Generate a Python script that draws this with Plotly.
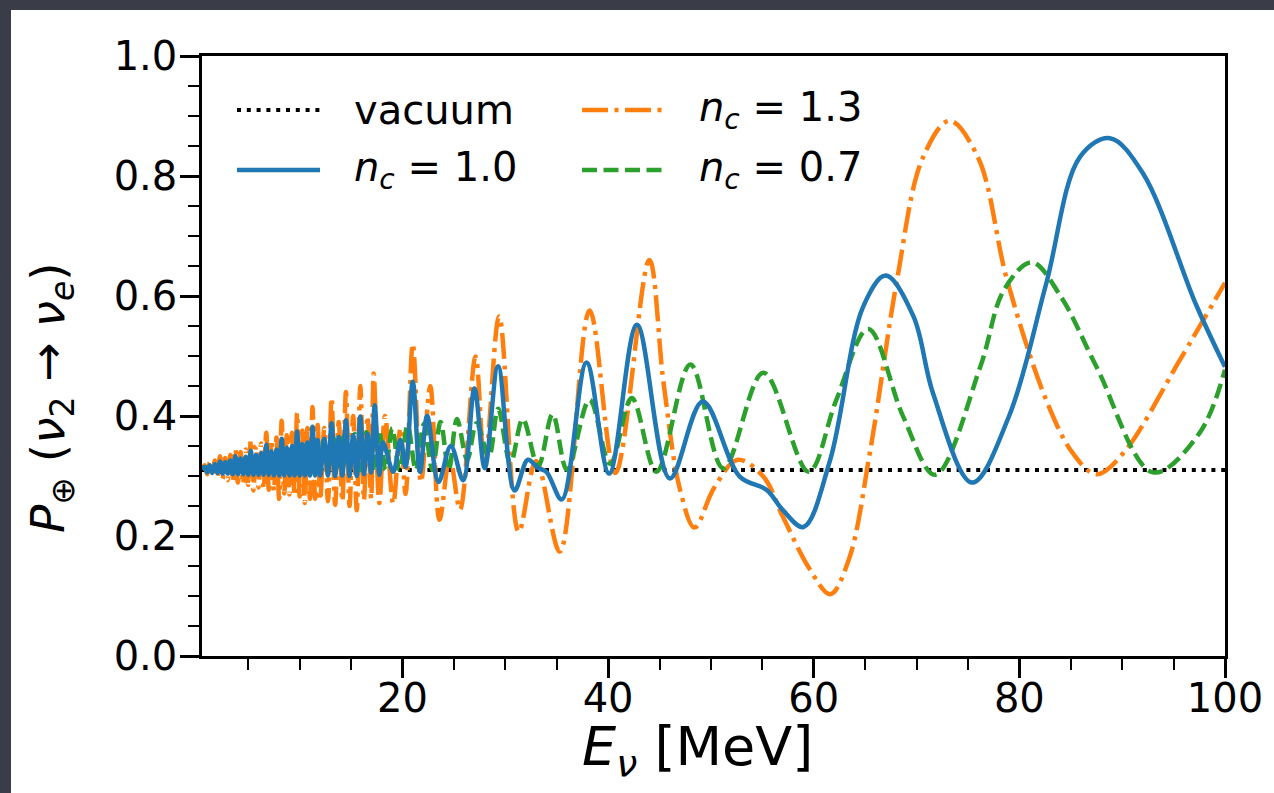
import plotly.graph_objects as go

# ---------------------------------------------------------------
# Regeneration probability P(nu_2 -> nu_e) vs. neutrino energy
# ---------------------------------------------------------------
E_vacuum = [0.5, 100.0]
P_vacuum = [0.31, 0.31]

# n_c = 1.0
E_nc10 = [0.5, 0.75, 1.0, 1.25, 1.5, 1.75, 2.0, 2.25, 2.5, 2.75, 3.0, 3.25, 3.5, 3.75,
          4.0, 4.25, 4.5, 4.75, 5.0, 5.25, 5.5, 5.75, 6.0, 6.25, 6.5, 6.75, 7.0, 7.25,
          7.5, 7.75, 8.0, 8.25, 8.5, 8.75, 9.0, 9.25, 9.5, 9.75, 10.0, 10.25, 10.5,
          10.75, 11.0, 11.25, 11.5, 11.75, 12.0,
          12.4, 12.75, 13.1, 13.45, 13.8, 14.15, 14.5, 14.85, 15.2, 15.55, 15.9, 16.25,
          16.6, 16.95, 17.3, 17.75,
          18.1, 19.1, 19.8, 20.3, 21.0, 21.7, 22.4, 23.5, 24.7, 25.9, 27.0, 28.0, 29.3,
          30.9, 32.2, 33.2, 34.0, 35.5, 37.9, 40.1, 42.8, 46.0, 49.2, 52.8, 55.4, 57.0,
          59.0, 61.6, 64.8, 67.0, 69.7, 71.6, 75.4, 79.0, 82.6, 85.9, 88.8, 92.0, 97.2,
          100.0]
P_nc10 = [0.311, 0.315, 0.306, 0.318, 0.305, 0.320, 0.305, 0.324, 0.304, 0.323, 0.304,
          0.326, 0.303, 0.333, 0.303, 0.329, 0.303, 0.332, 0.302, 0.342, 0.302, 0.335,
          0.302, 0.338, 0.302, 0.352, 0.302, 0.341, 0.301, 0.344, 0.301, 0.362, 0.301,
          0.347, 0.301, 0.350, 0.301, 0.374, 0.301, 0.353, 0.301, 0.356, 0.301, 0.382,
          0.301, 0.360, 0.301,
          0.362, 0.301, 0.388, 0.300, 0.365, 0.301, 0.393, 0.300, 0.368, 0.300, 0.399,
          0.303, 0.370, 0.306, 0.418, 0.302,
          0.356, 0.307, 0.360, 0.315, 0.457, 0.307, 0.400, 0.290, 0.350, 0.293, 0.446,
          0.313, 0.483, 0.276, 0.327, 0.313, 0.307, 0.261, 0.489, 0.304, 0.552, 0.296,
          0.424, 0.299, 0.277, 0.243, 0.215, 0.327, 0.582, 0.634, 0.566, 0.438, 0.289,
          0.400, 0.620, 0.832, 0.863, 0.805, 0.585, 0.482]

# n_c = 1.3
E_nc13 = [0.5, 0.75, 1.0, 1.25, 1.5, 1.75, 2.0, 2.25, 2.5, 2.75, 3.0, 3.25, 3.5, 3.75,
          4.0, 4.25, 4.5, 4.75, 5.0, 5.25, 5.5, 5.75, 6.0, 6.25, 6.5, 6.75, 7.0, 7.25,
          7.5, 7.75, 8.0, 8.25, 8.5, 8.75, 9.0, 9.25, 9.5, 9.75, 10.0, 10.25, 10.5,
          10.75, 11.0, 11.25, 11.5, 11.75, 12.0,
          12.4, 12.75, 13.1, 13.45, 13.8, 14.15, 14.5, 14.85, 15.2, 15.55, 15.9, 16.25,
          16.6, 16.95, 17.2, 17.75,
          18.3, 19.1, 19.8, 20.3, 21.0, 21.8, 22.7, 23.6, 24.6, 25.6, 27.1, 28.0, 29.4,
          31.3, 33.0, 35.3, 38.2, 40.7, 44.0, 45.4, 47.0, 48.4, 50.3, 52.6, 55.1, 57.0,
          59.6, 61.6, 63.4, 65.5, 68.1, 70.6, 73.2, 76.0, 78.8, 82.6, 85.2, 87.5, 90.1,
          95.6, 100.0]
P_nc13 = [0.311, 0.318, 0.303, 0.322, 0.300, 0.326, 0.297, 0.333, 0.295, 0.330, 0.293,
          0.335, 0.291, 0.345, 0.289, 0.340, 0.287, 0.344, 0.285, 0.360, 0.276, 0.350,
          0.281, 0.354, 0.279, 0.372, 0.277, 0.360, 0.275, 0.364, 0.262, 0.392, 0.271,
          0.368, 0.269, 0.372, 0.267, 0.405, 0.266, 0.376, 0.255, 0.380, 0.262, 0.415,
          0.262, 0.385, 0.260,
          0.380, 0.258, 0.430, 0.252, 0.390, 0.258, 0.440, 0.250, 0.400, 0.243, 0.450,
          0.260, 0.400, 0.262, 0.471, 0.255,
          0.400, 0.254, 0.380, 0.270, 0.520, 0.290, 0.450, 0.227, 0.330, 0.244, 0.499,
          0.318, 0.566, 0.207, 0.325, 0.174, 0.576, 0.305, 0.660, 0.454, 0.277, 0.214,
          0.280, 0.327, 0.299, 0.232, 0.145, 0.103, 0.160, 0.343, 0.627, 0.830, 0.892,
          0.830, 0.627, 0.427, 0.338, 0.303, 0.338, 0.493, 0.622]

# n_c = 0.7
E_nc07 = [0.5, 0.85, 1.2, 1.55, 1.9, 2.25, 2.6, 2.95, 3.3, 3.65, 4.0, 4.35, 4.7, 5.05,
          5.4, 5.75, 6.1, 6.45, 6.8, 7.15, 7.5, 7.85, 8.2, 8.55, 8.9, 9.25, 9.6, 9.95,
          10.3, 10.7, 11.1, 11.5, 11.9, 12.35, 12.8, 13.3, 13.8, 14.3, 14.8, 15.35,
          15.9, 16.5, 17.1, 17.7, 18.35, 19.0, 19.7, 20.5, 21.3, 22.1, 22.9, 23.7,
          24.5, 25.3,
          26.3, 27.2, 28.4, 29.3, 30.5, 31.7, 33.2, 34.6, 36.0, 38.2, 40.2, 42.3, 44.7,
          48.0, 51.2, 55.1, 59.5, 62.2, 65.3, 68.7, 71.8, 76.2, 78.5, 81.2, 84.0, 87.5,
          93.0, 97.5, 100.0]
P_nc07 = [0.311, 0.315, 0.309, 0.317, 0.309, 0.319, 0.308, 0.322, 0.308, 0.324, 0.308,
          0.327, 0.308, 0.329, 0.308, 0.332, 0.308, 0.335, 0.308, 0.338, 0.308, 0.341,
          0.309, 0.344, 0.309, 0.347, 0.309, 0.350,
          0.309, 0.353, 0.310, 0.356, 0.310, 0.360, 0.310, 0.363, 0.310, 0.366, 0.310,
          0.370, 0.310, 0.373, 0.310, 0.376, 0.310, 0.380, 0.310, 0.384, 0.310, 0.387,
          0.310, 0.390, 0.310, 0.395,
          0.327, 0.388, 0.332, 0.412, 0.321, 0.395, 0.316, 0.403, 0.310, 0.427, 0.320,
          0.430, 0.307, 0.486, 0.313, 0.472, 0.307, 0.427, 0.545, 0.399, 0.302, 0.482,
          0.610, 0.656, 0.600, 0.482, 0.306, 0.371, 0.477]

x_ticks = [20, 40, 60, 80, 100]
y_ticks = [0.0, 0.2, 0.4, 0.6, 0.8, 1.0]

for a, b in [(E_nc10, P_nc10), (E_nc13, P_nc13), (E_nc07, P_nc07)]:
    assert len(a) == len(b)

# ---------------------------------------------------------------
# Figure geometry and styles
# ---------------------------------------------------------------
W, H = 1274, 793
ML, MR, MT, MB = 202, 49, 56, 137
PW, PH = W - ML - MR, H - MT - MB
FONT = "DejaVu Sans"

BLUE, ORANGE, GREEN = "#1f77b4", "#ff7f0e", "#2ca02c"
DOT = "4px,5.8px"
DASH = "15px,6.5px"
DASHDOT = "26px,6.5px,4px,6.5px"
LW = 4.5


def px(x, y):
    """Convert page pixel position to paper coordinates."""
    return (x - ML) / PW, (H - MB - y) / PH


series = [
    ("vacuum", E_vacuum, P_vacuum, "black", DOT, 4),
    ("nc13", E_nc13, P_nc13, ORANGE, DASHDOT, LW),
    ("nc07", E_nc07, P_nc07, GREEN, DASH, LW),
    ("nc10", E_nc10, P_nc10, BLUE, "solid", LW),
]

fig = go.Figure()
for name, xs, ys, color, dash, width in series:
    fig.add_trace(go.Scatter(
        x=xs, y=ys, mode="lines", name=name, showlegend=False,
        line=dict(color=color, width=width, dash=dash, shape="spline",
                  smoothing=1.0, simplify=False),
        hoverinfo="skip",
    ))

# Page frame: dark surround with white figure area
x0, y0 = px(11, 10)
x1, y1 = px(W, H)
shapes = [dict(type="rect", xref="paper", yref="paper", x0=x0, y0=y1, x1=x1, y1=y0,
               fillcolor="white", line=dict(width=0), layer="below")]

# Legend (two columns)
legend_items = [
    ("vacuum", "black", DOT, 4, 0, 0),
    ("<i>n</i><sub><i>c</i></sub> = 1.0", BLUE, "solid", LW, 0, 1),
    ("<i>n</i><sub><i>c</i></sub> = 1.3", ORANGE, DASHDOT, LW, 1, 0),
    ("<i>n</i><sub><i>c</i></sub> = 0.7", GREEN, DASH, LW, 1, 1),
]
col_line = [(237, 320), (582, 665)]
col_text = [352, 697]
row_y = [110, 170]
annotations = []
for label, color, dash, width, col, row in legend_items:
    lx0, ly = px(col_line[col][0], row_y[row])
    lx1, _ = px(col_line[col][1], row_y[row])
    shapes.append(dict(type="line", xref="paper", yref="paper", x0=lx0, x1=lx1,
                       y0=ly, y1=ly, line=dict(color=color, width=width, dash=dash)))
    tx, _ = px(col_text[col], row_y[row])
    annotations.append(dict(text=label, xref="paper", yref="paper", x=tx, y=ly,
                            xanchor="left", yanchor="middle", showarrow=False,
                            font=dict(family=FONT, size=40, color="black")))

# Axis titles
tx, ty = px(697, 750)
annotations.append(dict(text="<i>E</i><sub><i>ν</i></sub> [MeV]", xref="paper",
                        yref="paper", x=tx, y=ty, xanchor="center", yanchor="middle",
                        showarrow=False, font=dict(family=FONT, size=54, color="black")))
tx, ty = px(51, 398)
annotations.append(dict(text="<i>P</i><sub>⊕</sub> (<i>ν</i><sub>2</sub> → <i>ν</i><sub><i>e</i></sub>)",
                        xref="paper", yref="paper", x=tx, y=ty, xanchor="center",
                        yanchor="middle", textangle=-90, showarrow=False,
                        font=dict(family=FONT, size=47, color="black")))

axis_common = dict(
    showgrid=False, zeroline=False, showline=True, linecolor="black", linewidth=2.5,
    mirror=True, ticks="outside", ticklen=19, tickwidth=2.5, tickcolor="black",
    tickfont=dict(family=FONT, size=40, color="black"), automargin=False,
)

fig.update_layout(
    width=W, height=H, template="none",
    margin=dict(l=ML, r=MR, t=MT, b=MB, pad=0),
    paper_bgcolor="#3a3c48", plot_bgcolor="white",
    font=dict(family=FONT, color="black"),
    shapes=shapes, annotations=annotations, showlegend=False,
    xaxis=dict(
        **axis_common, range=[0.5, 100], tickvals=x_ticks,
        ticktext=[str(v) for v in x_ticks], ticklabelstandoff=-14,
        minor=dict(ticks="outside", ticklen=11, tickwidth=2, tickcolor="black",
                   dtick=5, tick0=0, showgrid=False),
    ),
    yaxis=dict(
        **axis_common, range=[0, 1], tickvals=y_ticks,
        ticktext=[f"{v:.1f}" for v in y_ticks], ticklabelstandoff=-5,
        minor=dict(ticks="outside", ticklen=11, tickwidth=2, tickcolor="black",
                   dtick=0.05, tick0=0, showgrid=False),
    ),
)

fig.write_html("out.html")
